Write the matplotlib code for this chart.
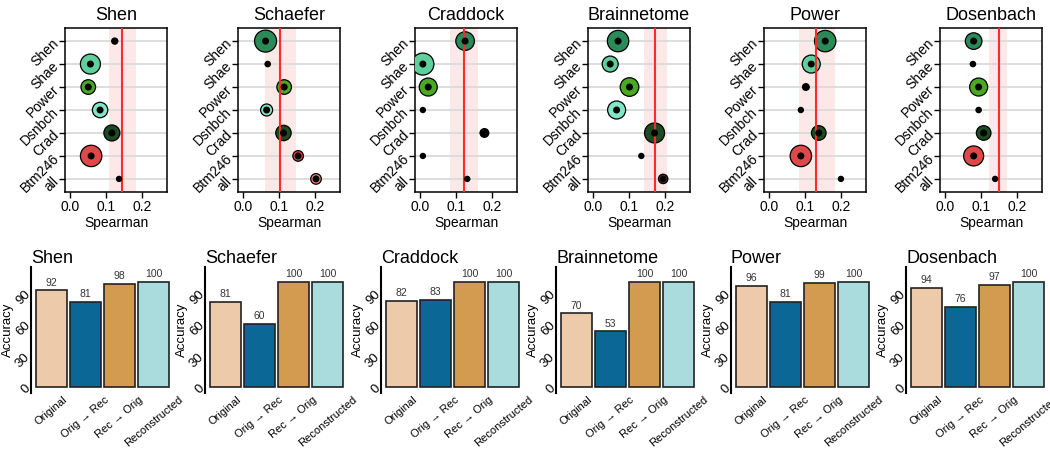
import numpy as np
import matplotlib.pyplot as plt

plt.rcParams['font.family'] = ['Liberation Sans', 'DejaVu Sans']

atlases = ['Shen', 'Schaefer', 'Craddock', 'Brainnetome', 'Power', 'Dosenbach']
rows = ['Shen', 'Shae', 'Power', 'Dsnbch', 'Crad', 'Btm246', 'all']

# spearman value per row (one list per atlas panel)
rho = [
    [0.124, 0.056, 0.050, 0.083, 0.116, 0.058, 0.136],
    [0.062, 0.068, 0.114, 0.065, 0.112, 0.153, 0.203],
    [0.125, 0.007, 0.022, 0.007, 0.179, 0.007, 0.131],
    [0.069, 0.047, 0.101, 0.065, 0.171, 0.134, 0.195],
    [0.156, 0.117, 0.102, 0.088, 0.138, 0.088, 0.200],
    [0.079, 0.077, 0.093, 0.093, 0.107, 0.079, 0.139],
]
# size of coloured circle (0 = none)
ring = [
    [0, 10.0, 7.3, 7.7, 8.0, 10.7, 0],
    [11.0, 0, 7.3, 6.0, 7.7, 5.3, 5.3],
    [9.3, 11.0, 9.0, 0, 0, 0, 0],
    [10.7, 8.0, 9.3, 9.0, 10.0, 0, 4.7],
    [10.7, 9.0, 0, 0, 7.3, 10.7, 0],
    [8.3, 0, 9.0, 0, 7.3, 10.0, 0],
]
# size of black centre dot
dot = [
    [3.7, 3.5, 3.5, 3.5, 3.5, 3.5, 3.2],
    [3.5, 3.3, 3.5, 3.5, 3.5, 3.5, 3.5],
    [3.5, 3.5, 3.5, 3.2, 5.0, 3.2, 3.2],
    [3.5, 3.5, 3.5, 3.5, 3.5, 3.2, 3.2],
    [3.5, 3.5, 4.0, 3.2, 3.5, 3.5, 3.2],
    [3.5, 3.3, 3.5, 3.3, 3.5, 3.5, 3.2],
]
ref_line = [0.145, 0.103, 0.123, 0.172, 0.131, 0.149]
ref_lo = [0.107, 0.060, 0.084, 0.142, 0.083, 0.121]
ref_hi = [0.183, 0.147, 0.162, 0.205, 0.184, 0.173]

row_colors = ['#2a8a58', '#5fcf9c', '#4aa823', '#80e6c6', '#1d4b22', '#e04848']
all_colors = ['#f08878', '#f08878', '#f08878', '#5a2626', '#f08878', '#f08878']

methods = ['Original', 'Orig \u2192 Rec', 'Rec \u2192 Orig', 'Reconstructed']
acc = [
    [92, 81, 98, 100],
    [81, 60, 100, 100],
    [82, 83, 100, 100],
    [70, 53, 100, 100],
    [96, 81, 99, 100],
    [94, 76, 97, 100],
]
bar_colors = ['#edcaa9', '#0b6795', '#d39b4f', '#abdcdd']

W, H = 1050, 455
fig = plt.figure(figsize=(10.5, 4.55), dpi=100)


def px_axes(l, t, w, h):
    return fig.add_axes([l / W, 1 - (t + h) / H, w / W, h / H])


top_left = [65, 238, 415, 588, 764, 940]
bot_left = [31, 205, 381, 556, 731, 906]

for i, name in enumerate(atlases):
    # dot plot
    ax = px_axes(top_left[i], 28, 102, 164)
    y = np.arange(len(rows))
    x = np.array(rho[i])
    r = np.array(ring[i])
    cols = row_colors + [all_colors[i]]
    ax.axvspan(ref_lo[i], ref_hi[i], color='#fde8e8', zorder=0, lw=0)
    for yy in y:
        ax.axhline(yy, color='#dadada', lw=1.3, zorder=1)
    m = r > 0
    ax.scatter(x[m], y[m], s=(2 * r[m] * 0.72) ** 2, c=[cols[k] for k in np.where(m)[0]],
               edgecolors='black', linewidths=0.9, zorder=3)
    ax.axvline(ref_line[i], color='#ff2a2a', lw=1.5, zorder=3.5)
    ax.scatter(x, y, s=(2 * np.array(dot[i]) * 0.72) ** 2, c='black', lw=0, zorder=4)
    ax.set_xlim(-0.015, 0.27)
    ax.set_ylim(6.57, -0.57)
    ax.set_xticks([0, 0.1, 0.2])
    ax.set_xticklabels(['0.0', '0.1', '0.2'], fontsize=10)
    ax.set_yticks(y)
    ax.set_yticklabels(rows, rotation=45, ha='right', va='center',
                       rotation_mode='anchor', fontsize=10)
    ax.tick_params(length=4, width=1, pad=2)
    for s in ax.spines.values():
        s.set_linewidth(1.1)
    ax.set_xlabel('Spearman', fontsize=10, labelpad=1)
    ax.set_title(name, fontsize=13, pad=6)

    # accuracy bars
    bx = px_axes(bot_left[i], 267, 143, 126)
    pos = np.arange(1, 5)
    bx.bar(pos, acc[i], width=0.9, color=bar_colors, edgecolor='#222222', lw=1.2)
    for p, v in zip(pos, acc[i]):
        bx.text(p, v + 2.5, str(v), ha='center', va='bottom', fontsize=7.5, color='#333333')
    bx.set_xlim(0.4, 4.6)
    bx.set_ylim(-5.7, 114)
    for s in ['top', 'right', 'bottom']:
        bx.spines[s].set_visible(False)
    bx.spines['left'].set_linewidth(1.5)
    bx.set_yticks([0, 30, 60, 90])
    bx.set_yticklabels(['0', '30', '60', '90'], rotation=45, ha='right', va='center',
                       rotation_mode='anchor', fontsize=9.5)
    bx.set_xticks(pos)
    bx.set_xticklabels(methods, rotation=40, ha='center', va='top', fontsize=8)
    bx.tick_params(axis='y', length=0, pad=2)
    bx.tick_params(axis='x', length=0, pad=1)
    bx.set_ylabel('Accuracy', fontsize=9.5, labelpad=0)
    bx.set_title(name, loc='left', fontsize=13, pad=3)

plt.savefig('out.png', dpi=100)
